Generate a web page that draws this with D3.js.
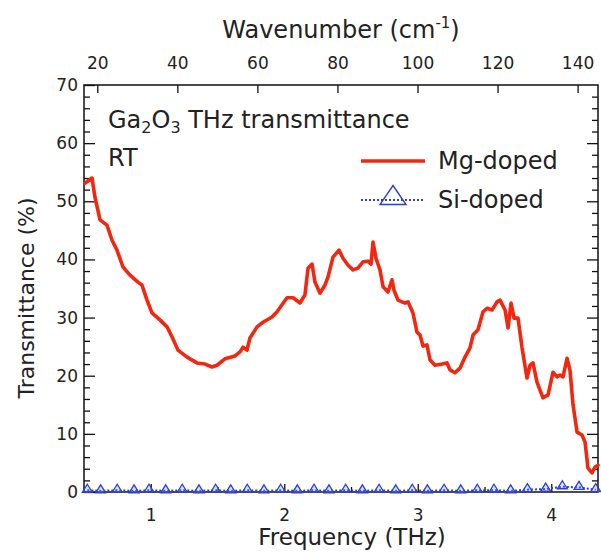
<!DOCTYPE html>
<html><head><meta charset="utf-8">
<script src="https://cdn.jsdelivr.net/npm/d3@7"></script>
<style>
body{margin:0;background:#fff}
svg{display:block}
text{font-family:"DejaVu Sans",sans-serif;fill:#222}
</style>
</head><body>
<svg id="chart" width="601" height="553"></svg>
<script>
// ---- data ----
const mgFreq = [0.507,0.560,0.582,0.620,0.672,0.710,0.747,0.792,0.845,0.904,0.934,0.972,1.009,1.069,1.122,1.159,1.204,1.272,1.346,1.406,1.459,1.496,1.556,1.631,1.669,1.691,1.721,1.743,1.796,1.841,1.908,1.946,1.983,2.021,2.066,2.118,2.155,2.178,2.208,2.230,2.268,2.305,2.328,2.365,2.410,2.440,2.478,2.515,2.552,2.590,2.627,2.650,2.665,2.687,2.717,2.740,2.777,2.807,2.822,2.852,2.904,2.927,2.964,2.994,3.017,3.039,3.069,3.092,3.129,3.182,3.219,3.242,3.279,3.316,3.354,3.391,3.414,3.451,3.489,3.519,3.556,3.594,3.616,3.654,3.676,3.699,3.721,3.751,3.781,3.818,3.841,3.863,3.893,3.938,3.976,4.013,4.043,4.066,4.088,4.118,4.140,4.163,4.193,4.230,4.253,4.275,4.305,4.328,4.350];
const mgT = [53.1,54.0,50.7,46.8,45.9,43.3,41.6,38.7,37.3,36.1,35.6,33.0,30.8,29.6,28.4,26.7,24.4,23.2,22.2,22.0,21.5,21.8,22.9,23.4,24.1,24.9,24.4,26.5,28.4,29.2,30.1,31.0,32.2,33.4,33.4,32.5,33.9,38.5,39.2,36.1,34.2,35.6,37.0,40.4,41.6,40.2,39.0,38.2,38.5,39.6,39.7,39.2,43.0,40.2,38.2,35.3,34.4,36.5,34.7,33.0,32.5,32.7,30.8,27.5,27.0,25.1,25.3,22.7,21.8,22.0,22.2,21.0,20.5,21.3,23.2,24.8,27.0,27.9,31.0,31.6,31.3,32.7,33.0,31.3,28.2,32.5,29.9,29.9,24.8,19.6,21.8,22.2,18.9,16.2,16.7,20.6,19.8,20.1,19.8,23.0,21.0,15.0,10.3,9.8,8.6,4.1,3.3,4.3,4.6];
const siFreq = [0.525,0.625,0.749,0.875,0.987,1.112,1.236,1.361,1.486,1.599,1.723,1.848,1.973,2.098,2.223,2.335,2.460,2.585,2.710,2.835,2.959,3.072,3.197,3.322,3.446,3.571,3.696,3.821,3.958,4.083,4.208,4.333];
const siT = [0.3,0.2,0.3,0.2,0.3,0.2,0.3,0.2,0.3,0.2,0.3,0.2,0.3,0.2,0.3,0.2,0.3,0.2,0.3,0.2,0.3,0.2,0.3,0.2,0.3,0.3,0.2,0.4,0.5,0.9,0.8,0.4];
const yMajorTicks = [0,10,20,30,40,50,60,70];
const yMinorTicks = [2,4,6,8,12,14,16,18,22,24,26,28,32,34,36,38,42,44,46,48,52,54,56,58,62,64,66,68];
const xMajorTicks = [1,2,3,4];
const xMinorTicks = [1.5,2.5,3.5];
const wnTicks = [20,40,60,80,100,120,140];
const CM_PER_THZ = 33.356;
const seriesNames = ["Mg-doped","Si-doped"];

// ---- layout ----
const svg = d3.select("#chart");
const L = 84, R = 598, T = 85, B = 492;
const x = d3.scaleLinear().domain([0.5, 4.35]).range([L, R]);
const y = d3.scaleLinear().domain([0, 70]).range([B, T]);
const xw = d3.scaleLinear().domain([0.5 * CM_PER_THZ, 4.35 * CM_PER_THZ]).range([L, R]);
const red = "#f3260f", blue = "#2b3fd6";
const tickFont = 17;

function styleAxis(g, fontSize) {
  g.select(".domain").remove();
  g.selectAll(".tick line").attr("stroke", "#111").attr("stroke-width", 1.3);
  g.selectAll(".tick text").attr("font-size", fontSize).attr("font-family", null).attr("fill", "#222");
}

// left
svg.append("g").attr("transform", `translate(${L},0)`)
  .call(d3.axisLeft(y).tickValues(yMinorTicks).tickSize(-6).tickFormat(""))
  .call(g => styleAxis(g, tickFont));
svg.append("g").attr("transform", `translate(${L},0)`)
  .call(d3.axisLeft(y).tickValues(yMajorTicks).tickSize(-11).tickPadding(6))
  .call(g => styleAxis(g, tickFont));
// right
svg.append("g").attr("transform", `translate(${R},0)`)
  .call(d3.axisRight(y).tickValues(yMinorTicks).tickSize(-6).tickFormat(""))
  .call(g => styleAxis(g, tickFont));
svg.append("g").attr("transform", `translate(${R},0)`)
  .call(d3.axisRight(y).tickValues(yMajorTicks.filter(v => v > 0 && v < 70)).tickSize(-11).tickFormat(""))
  .call(g => styleAxis(g, tickFont));
// bottom
svg.append("g").attr("transform", `translate(0,${B})`)
  .call(d3.axisBottom(x).tickValues(xMinorTicks).tickSize(-5).tickFormat(""))
  .call(g => styleAxis(g, tickFont));
svg.append("g").attr("transform", `translate(0,${B})`)
  .call(d3.axisBottom(x).tickValues(xMajorTicks).tickSize(-8).tickPadding(17).tickFormat(d3.format("d")))
  .call(g => styleAxis(g, tickFont));
// top
svg.append("g").attr("transform", `translate(0,${T})`)
  .call(d3.axisTop(xw).tickValues(wnTicks).tickSize(-8).tickPadding(16).tickFormat(d3.format("d")))
  .call(g => styleAxis(g, tickFont));

// frame
svg.append("rect").attr("x", L).attr("y", T).attr("width", R - L).attr("height", B - T)
  .attr("fill", "none").attr("stroke", "#111").attr("stroke-width", 1.5);

// Si-doped series
const siData = siFreq.map((f, i) => [f, siT[i]]);
svg.append("path").datum(siData)
  .attr("d", d3.line().x(d => x(d[0])).y(d => y(d[1])))
  .attr("fill", "none").attr("stroke", blue).attr("stroke-width", 2).attr("stroke-dasharray", "2,2");
const tri = (cx, cy, w, h) => `M${cx},${cy - h / 2}L${cx + w / 2},${cy + h / 2}L${cx - w / 2},${cy + h / 2}Z`;
svg.append("g").selectAll("path").data(siData).join("path")
  .attr("d", d => tri(x(d[0]), y(d[1]) - 2, 10, 8))
  .attr("fill", "rgba(120,140,240,0.25)").attr("stroke", blue).attr("stroke-width", 1.3);

// Mg-doped series
const mgData = mgFreq.map((f, i) => [f, mgT[i]]);
svg.append("path").datum(mgData)
  .attr("d", d3.line().x(d => x(d[0])).y(d => y(d[1])))
  .attr("fill", "none").attr("stroke", red).attr("stroke-width", 3.6)
  .attr("stroke-linejoin", "round").attr("stroke-linecap", "round");

// annotation
const ann = svg.append("text").attr("x", 108).attr("y", 128).attr("font-size", 24);
ann.append("tspan").text("Ga");
ann.append("tspan").text("2").attr("font-size", 16).attr("dy", 5);
ann.append("tspan").text("O").attr("dy", -5);
ann.append("tspan").text("3").attr("font-size", 16).attr("dy", 5);
ann.append("tspan").text(" THz transmittance").attr("dy", -5);
svg.append("text").attr("x", 108).attr("y", 166).attr("font-size", 24).text("RT");

// legend
svg.append("line").attr("x1", 361).attr("x2", 425).attr("y1", 161).attr("y2", 161)
  .attr("stroke", red).attr("stroke-width", 3.6);
svg.append("text").attr("x", 438).attr("y", 169).attr("font-size", 24).text(seriesNames[0]);
svg.append("line").attr("x1", 361).attr("x2", 425).attr("y1", 200).attr("y2", 200)
  .attr("stroke", blue).attr("stroke-width", 2.2).attr("stroke-dasharray", "2,2");
svg.append("path").attr("d", tri(393, 195, 26, 19)).attr("fill", "none").attr("stroke", blue).attr("stroke-width", 1.4);
svg.append("text").attr("x", 438).attr("y", 208).attr("font-size", 24).text(seriesNames[1]);

// axis titles
const wt = svg.append("text").attr("x", 341).attr("y", 38).attr("text-anchor", "middle").attr("font-size", 24);
wt.append("tspan").text("Wavenumber (cm");
wt.append("tspan").text("-1").attr("font-size", 15).attr("dy", -10);
wt.append("tspan").text(")").attr("dy", 10);
svg.append("text").attr("x", 352).attr("y", 545).attr("text-anchor", "middle").attr("font-size", 23).text("Frequency (THz)");
svg.append("text").attr("transform", "translate(34,298) rotate(-90)").attr("text-anchor", "middle")
  .attr("font-size", 22).text("Transmittance (%)");
</script>
</body></html>
